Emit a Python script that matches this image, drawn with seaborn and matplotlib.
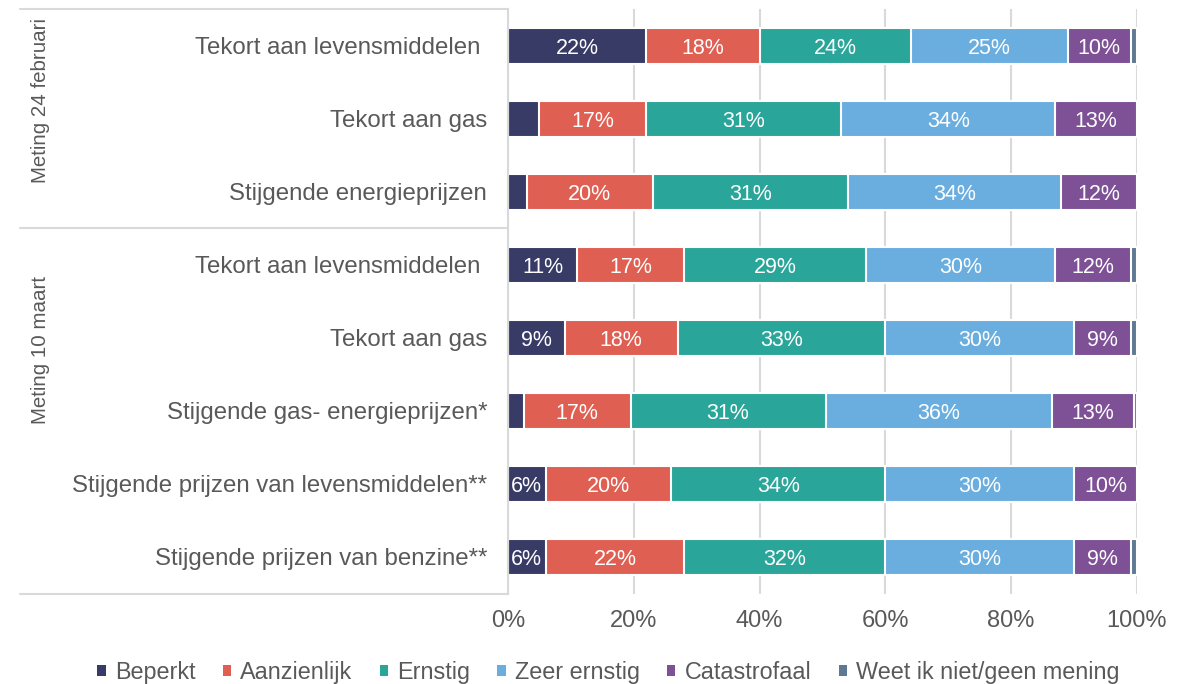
import matplotlib.pyplot as plt
import pandas as pd
import seaborn as sns
from matplotlib.patches import Patch
from matplotlib.transforms import blended_transform_factory

sns.set_theme(style="white")
plt.rcParams["font.family"] = ["Liberation Sans", "DejaVu Sans"]

# data
items = [
    "Tekort aan levensmiddelen ",
    "Tekort aan gas",
    "Stijgende energieprijzen",
    "Tekort aan levensmiddelen ",
    "Tekort aan gas",
    "Stijgende gas- energieprijzen*",
    "Stijgende prijzen van levensmiddelen**",
    "Stijgende prijzen van benzine**",
]
groups = ["Meting 24 februari", "Meting 10 maart"]
categories = ["Beperkt", "Aanzienlijk", "Ernstig", "Zeer ernstig",
              "Catastrofaal", "Weet ik niet/geen mening"]
beperkt = [22, 5, 3, 11, 9, 2.5, 6, 6]
aanzienlijk = [18, 17, 20, 17, 18, 17, 20, 22]
ernstig = [24, 31, 31, 29, 33, 31, 34, 32]
zeer_ernstig = [25, 34, 34, 30, 30, 36, 30, 30]
catastrofaal = [10, 13, 12, 12, 9, 13, 10, 9]
weet_niet = [1, 0, 0, 1, 1, 0.5, 0, 1]
x_ticks = [0, 20, 40, 60, 80, 100]

colors = ["#383b66", "#e05f53", "#2aa59a", "#6aaee0", "#7e5196", "#5e7a92"]
text_color = "#595959"
line_color = "#d9d9d9"

df = pd.DataFrame({
    "row": [f"r{i}" for i in range(len(items))],
    categories[0]: beperkt,
    categories[1]: aanzienlijk,
    categories[2]: ernstig,
    categories[3]: zeer_ernstig,
    categories[4]: catastrofaal,
    categories[5]: weet_niet,
})
cum = df[categories].cumsum(axis=1)

fig = plt.figure(figsize=(11.91, 6.84), dpi=100)
ax = fig.add_axes([0.4265, 0.1323, 0.5281, 0.854])

# stacked bars: draw cumulative totals from widest to narrowest
for cat, col in zip(reversed(categories), reversed(colors)):
    sns.barplot(x=cum[cat], y=df["row"], order=df["row"], orient="h",
                color=col, saturation=1, width=0.5,
                edgecolor="white", linewidth=1.5, ax=ax, zorder=2)

for i in range(len(items)):
    for cat in categories:
        val = df.loc[i, cat]
        if val >= 6:
            ax.text(cum.loc[i, cat] - val / 2, i, f"{val:.0f}%",
                    ha="center", va="center_baseline", color="white",
                    fontsize=15.5, zorder=3)

ax.set_xlim(0, 100)
ax.set_ylim(len(items) - 0.5, -0.5)
ax.set_xticks(x_ticks)
ax.set_xticklabels([f"{t}%" for t in x_ticks])
ax.set_yticks(range(len(items)))
ax.set_yticklabels(items)
ax.set_xlabel("")
ax.set_ylabel("")
ax.tick_params(axis="x", length=0, pad=12, labelsize=17, labelcolor=text_color)
ax.tick_params(axis="y", length=0, pad=15, labelsize=17.3, labelcolor=text_color)

ax.xaxis.grid(True, color=line_color, linewidth=1.5, zorder=0)
ax.set_axisbelow(True)
for side in ["top", "right", "bottom"]:
    ax.spines[side].set_visible(False)
ax.spines["left"].set_color(line_color)
ax.spines["left"].set_linewidth(1.5)

# group brackets
trans = blended_transform_factory(ax.transAxes, ax.transData)
for y in [-0.5, 2.5, 7.5]:
    ax.plot([-0.776, 0], [y, y], transform=trans, color=line_color,
            linewidth=1.5, clip_on=False)
for label, y in zip(groups, [0.75, 4.16]):
    ax.text(-0.744, y, label, transform=trans, rotation=90, ha="center",
            va="center", fontsize=14.8, color=text_color)

handles = [Patch(facecolor=c, edgecolor="none") for c in colors]
fig.legend(handles, categories, loc="center", bbox_to_anchor=(0.511, 0.017),
           ncol=6, frameon=False, fontsize=16.8, handlelength=0.35,
           handleheight=0.35, handletextpad=0.4, columnspacing=1.17,
           labelcolor=text_color)

fig.savefig("out.png", dpi=100)
